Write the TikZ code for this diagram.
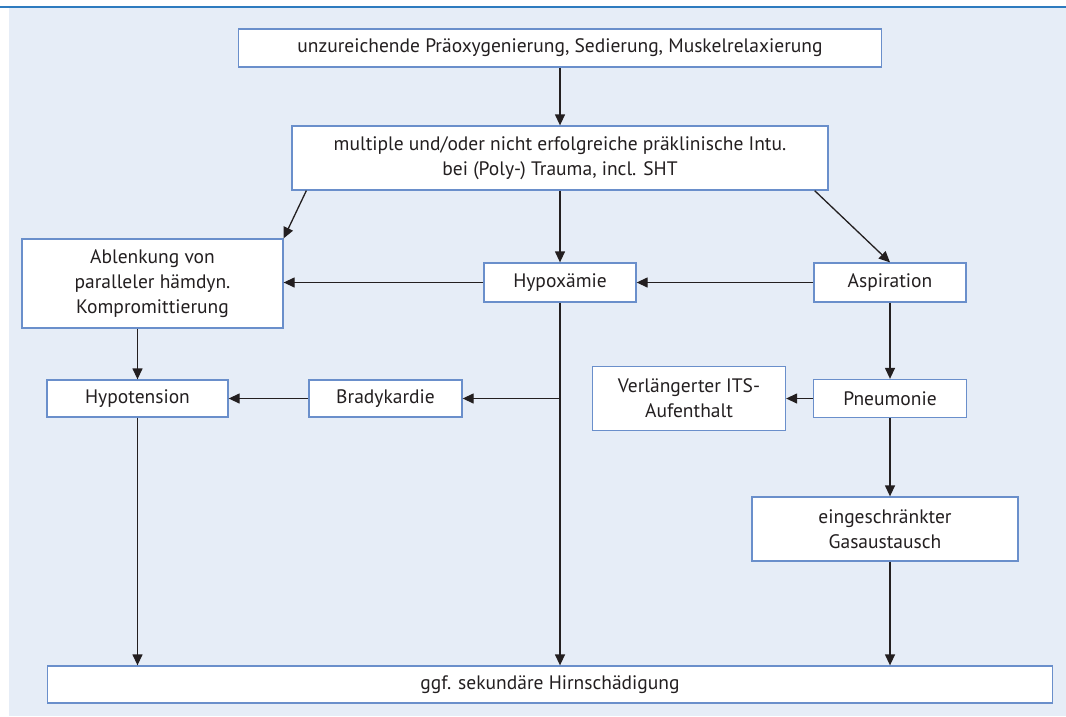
\documentclass[tikz,border=0pt]{standalone}
\usepackage{fontspec}
\setmainfont{PT Sans}
\usepackage{tikz}
\usetikzlibrary{arrows.meta}

\definecolor{bgblue}{HTML}{E6EDF7}
\definecolor{lineblue}{HTML}{2E7BBF}
\definecolor{boxblue}{HTML}{6A8FCB}
\definecolor{ink}{HTML}{231F20}

\begin{document}
\begin{tikzpicture}[line width=1.3pt, color=ink, >={Triangle[length=11pt,width=10pt]},
    main/.style = {draw=boxblue, fill=white, line width=1.3pt, inner sep=0pt, align=center, text=ink, font=\fontsize{19.5}{25}\selectfont}]
    \useasboundingbox (0,0) rectangle (1066pt,-716pt);
    \fill[bgblue] (9pt,-7.5pt) rectangle (1066pt,-716pt);
    \draw[lineblue, line width=2pt] (0,-6.5pt) -- (1066pt,-6.5pt);
		\node[main, minimum width=643pt, minimum height=38pt] (1) at (560pt,-48pt) {unzureichende Präoxygenierung, Sedierung, Muskelrelaxierung};
		\node[main, minimum width=536pt, minimum height=64pt, node distance=110pt] (2) [below of=1] {multiple und/oder nicht erfolgreiche präklinische Intu.\\bei (Poly-) Trauma, incl. SHT};
		\node[main, minimum width=152pt, minimum height=39pt, node distance=124.5pt] (4) [below of=2] {Hypoxämie};
		\node[main, minimum width=261pt, minimum height=89pt, node distance=407.5pt, yshift=-1pt] (3) [left of=4] {Ablenkung von\\paralleler hämdyn.\\Kompromittierung};
		\node[main, minimum width=152pt, minimum height=39pt, node distance=330pt] (5) [right of=4] {Aspiration};
		\node[main, minimum width=181pt, minimum height=37pt, node distance=115pt, xshift=-15pt] (6) [below of=3] {Hypotension};
		\node[main, minimum width=153pt, minimum height=37pt, node distance=248pt] (7) [right of=6] {Bradykardie};
		\node[main, minimum width=153pt, minimum height=38pt, node distance=116pt] (9) [below of=5] {Pneumonie};
		\node[main, minimum width=193pt, minimum height=64pt, node distance=201pt] (8) [left of=9] {Verlängerter ITS-\\Aufenthalt};
		\node[main, minimum width=266pt, minimum height=64pt, node distance=130.5pt, xshift=-5pt] (10) [below of=9] {eingeschränkter\\Gasaustausch};
		\node[main, minimum width=1005pt, minimum height=37pt, node distance=402pt, xshift=-10pt] (11) [below of=4] {ggf. sekundäre Hirnschädigung};
		\draw[->] (1) -- (2);
		\draw[->] ([xshift=15pt]2.south west) -- (3.north east);
		\draw[->] (2) -- (4);
		\draw[->] ([xshift=-14pt]2.south east) -- (5.north);
		\draw[->] (4.west) -- (4.west -| 3.east);
		\draw[->] (5) -- (4);
		\draw[->] (3.south -| 6) -- (6);
		\draw[->] (4) -- (4 |- 11.north);
		\draw[->] (4 |- 7) -- (7);
		\draw[->] (7) -- (6);
		\draw[->] (6) -- (6 |- 11.north);
		\draw[->] (5) -- (9);
		\draw[->] (9) -- (8);
		\draw[->] (9) -- (9 |- 10.north);
		\draw[->] (9 |- 10.south) -- (9 |- 11.north);
	\end{tikzpicture}
\end{document}
